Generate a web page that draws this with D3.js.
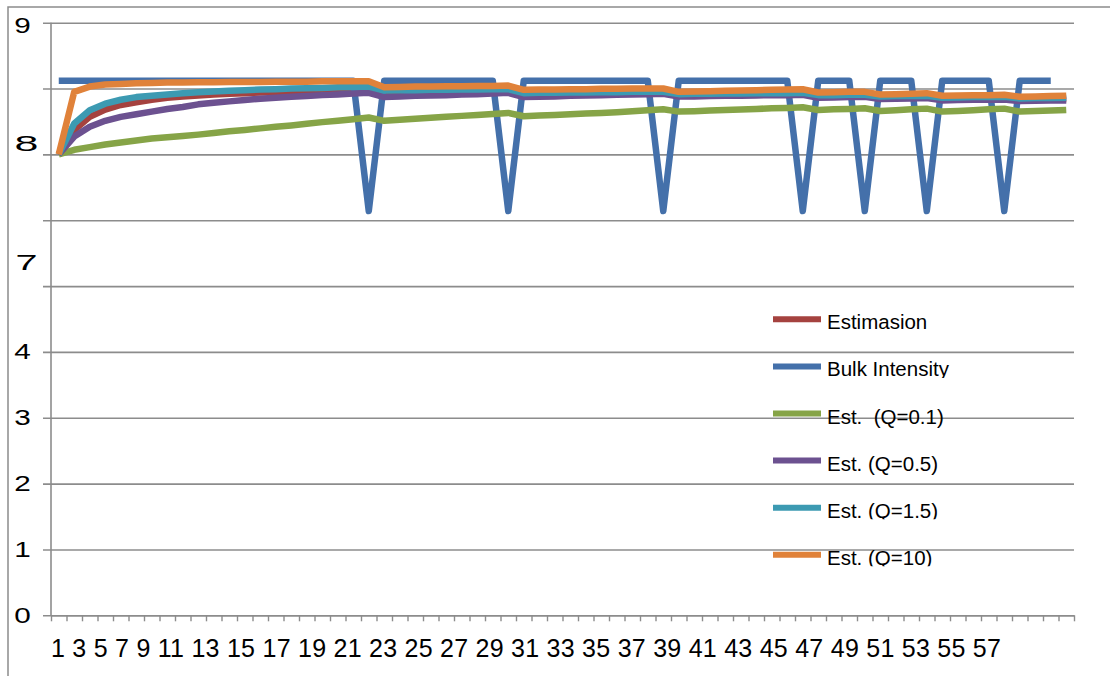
<!DOCTYPE html>
<html>
<head>
<meta charset="utf-8">
<script src="https://cdn.jsdelivr.net/npm/d3@7"></script>
<style>
  body { margin: 0; background: #fff; }
  svg { display: block; }
  text { font-family: "Liberation Sans", Arial, sans-serif; fill: #000; }
</style>
</head>
<body>
<svg id="chart" width="1110" height="676"></svg>
<script>
// ---- data ----------------------------------------------------------------
const categories = d3.range(1, 67);

const xTickLabels = ["1","3","5","7","9","11","13","15","17","19","21","23","25","27","29",
                     "31","33","35","37","39","41","43","45","47","49","51","53","55","57"];

const yGridValues = [0, 1, 2, 3, 4, 5, 6, 7, 8, 9];
const yLabelText  = ["0", "1", "2", "3", "4", "7", "8", "9"];
const yLabelAt    = [0, 1, 2, 3, 4, 5.36, 7.17, 8.96];

const seriesNames = ["Estimasion", "Bulk Intensity", "Est.  (Q=0.1)", "Est. (Q=0.5)", "Est. (Q=1.5)", "Est. (Q=10)"];

const estimasion = [7.00,7.37,7.57,7.68,7.75,7.79,7.83,7.86,7.88,7.895,
  7.91,7.92,7.93,7.94,7.945,7.955,7.96,7.97,7.975,7.98,
  7.99,7.905,7.91,7.92,7.925,7.93,7.935,7.94,7.95,7.955,
  7.90,7.905,7.91,7.915,7.92,7.925,7.93,7.93,7.935,7.94,
  7.895,7.90,7.90,7.905,7.905,7.91,7.915,7.915,7.92,7.88,
  7.885,7.885,7.89,7.86,7.865,7.865,7.87,7.84,7.845,7.85,
  7.85,7.855,7.83,7.835,7.835,7.84];

const bulkIntensity = [8.12,8.12,8.12,8.12,8.12,8.12,8.12,8.12,8.12,8.12,
  8.12,8.12,8.12,8.12,8.12,8.12,8.12,8.12,8.12,8.12,
  6.14,8.12,8.12,8.12,8.12,8.12,8.12,8.12,8.12,6.14,
  8.12,8.12,8.12,8.12,8.12,8.12,8.12,8.12,8.12,6.14,
  8.12,8.12,8.12,8.12,8.12,8.12,8.12,8.12,6.14,8.12,
  8.12,8.12,6.14,8.12,8.12,8.12,6.14,8.12,8.12,8.12,
  8.12,6.14,8.12,8.12,8.12];

const estQ01 = [7.00,7.07,7.11,7.15,7.18,7.21,7.24,7.26,7.28,7.30,
  7.325,7.35,7.37,7.395,7.42,7.44,7.465,7.49,7.51,7.535,
  7.56,7.51,7.525,7.54,7.555,7.57,7.585,7.60,7.615,7.63,
  7.58,7.59,7.60,7.61,7.62,7.63,7.64,7.655,7.67,7.685,
  7.65,7.655,7.665,7.675,7.68,7.69,7.70,7.705,7.715,7.675,
  7.685,7.69,7.70,7.66,7.67,7.685,7.695,7.65,7.66,7.67,
  7.685,7.695,7.65,7.66,7.665,7.675];

const estQ05 = [7.00,7.27,7.42,7.51,7.57,7.61,7.65,7.69,7.72,7.76,
  7.785,7.805,7.825,7.845,7.86,7.875,7.885,7.90,7.91,7.925,
  7.935,7.87,7.88,7.89,7.895,7.90,7.91,7.915,7.925,7.935,
  7.87,7.875,7.88,7.89,7.895,7.90,7.905,7.91,7.915,7.92,
  7.88,7.88,7.885,7.89,7.89,7.895,7.90,7.90,7.905,7.86,
  7.865,7.87,7.875,7.84,7.845,7.85,7.855,7.82,7.825,7.83,
  7.83,7.835,7.81,7.815,7.82,7.82];

const estQ15 = [7.00,7.47,7.67,7.77,7.83,7.87,7.89,7.91,7.93,7.945,
  7.955,7.965,7.975,7.985,7.99,8.00,8.005,8.01,8.02,8.025,
  8.03,7.97,7.975,7.975,7.98,7.98,7.985,7.985,7.99,7.99,
  7.93,7.935,7.935,7.94,7.94,7.945,7.945,7.95,7.95,7.95,
  7.915,7.92,7.92,7.925,7.925,7.93,7.93,7.93,7.935,7.90,
  7.90,7.905,7.905,7.88,7.885,7.885,7.89,7.86,7.865,7.87,
  7.87,7.875,7.85,7.855,7.855,7.86];

const estQ10 = [7.00,7.95,8.03,8.06,8.07,8.08,8.085,8.09,8.09,8.095,
  8.095,8.10,8.10,8.10,8.105,8.105,8.105,8.11,8.11,8.11,
  8.11,8.02,8.025,8.03,8.03,8.035,8.035,8.04,8.04,8.045,
  7.98,7.985,7.985,7.99,7.99,7.995,7.995,8.00,8.00,8.00,
  7.95,7.955,7.96,7.965,7.97,7.975,7.98,7.985,7.99,7.94,
  7.945,7.95,7.95,7.91,7.915,7.92,7.93,7.89,7.895,7.90,
  7.90,7.905,7.875,7.88,7.885,7.89];

// ---- styling -------------------------------------------------------------
const seriesColors = ["#a5423f", "#4470aa", "#86a447", "#6c5190", "#3c9ab2", "#e0823a"];
const seriesValues = [estimasion, bulkIntensity, estQ01, estQ05, estQ15, estQ10];
const legendClipped = [false, true, false, false, true, true];
// horizontal stretch and offset of the hand-set y labels
const yLabelStretch = [1.35, 1.35, 1.35, 1.35, 1.35, 1.8, 1.95, 1.35];
const yLabelShift   = [0, 0, 0, 0, 0, 4, 4, 0];

const W = 1110, H = 676;
const plot = { left: 51, right: 1074, top: 22.7, bottom: 615.3 };
const gridColor = "#8c8c8c";

const svg = d3.select("#chart");

// outer chart border (left and top edges visible)
svg.append("path")
  .attr("d", `M8,${H} L8,7 L${W},7`)
  .attr("fill", "none")
  .attr("stroke", gridColor)
  .attr("stroke-width", 1.5);

// ---- scales --------------------------------------------------------------
const x = d3.scaleBand().domain(categories).range([plot.left, plot.right]).padding(0);
const xEdge = d3.scaleLinear().domain([0, categories.length]).range([plot.left, plot.right]);
const y = d3.scaleLinear().domain([0, 9]).range([plot.bottom, plot.top]);

// ---- gridlines (with outside tick stubs) ---------------------------------
const grid = svg.append("g")
  .attr("transform", `translate(${plot.left - 8},0)`)
  .call(d3.axisLeft(y).tickValues(yGridValues).tickSize(-(plot.right - plot.left + 8)).tickFormat(""));
grid.select(".domain").remove();
grid.selectAll(".tick line").attr("stroke", gridColor).attr("stroke-width", 1.6);

// y axis line
svg.append("line")
  .attr("x1", plot.left).attr("x2", plot.left)
  .attr("y1", y(9)).attr("y2", y(0))
  .attr("stroke", gridColor).attr("stroke-width", 1.6);

// y labels
const yLab = svg.append("g")
  .attr("transform", `translate(22.5,0)`)
  .call(d3.axisLeft(y).tickValues(yLabelAt).tickSize(0).tickPadding(0)
    .tickFormat((d, i) => yLabelText[i]));
yLab.select(".domain").remove();
yLab.selectAll("text")
  .attr("font-size", 22)
  .attr("font-family", "Liberation Sans, Arial, sans-serif")
  .attr("fill", "#000")
  .attr("text-anchor", "middle")
  .attr("x", 0)
  .attr("transform", (d, i) => `translate(${yLabelShift[i]},0) scale(${yLabelStretch[i]},1)`);

// x axis: ticks at category boundaries
const xAxis = svg.append("g")
  .attr("transform", `translate(0,${plot.bottom})`)
  .call(d3.axisBottom(xEdge).tickValues(d3.range(0, categories.length + 1)).tickSize(6).tickSizeOuter(0).tickFormat(""));
xAxis.select(".domain").attr("stroke", gridColor).attr("stroke-width", 1.6);
xAxis.selectAll(".tick line").attr("stroke", gridColor).attr("stroke-width", 1.4);

// x labels, flowed as one line of text
const xText = svg.append("text")
  .attr("x", plot.left)
  .attr("y", 657)
  .attr("font-size", 25)
  .attr("letter-spacing", 0.25)
  .style("white-space", "pre");
xText.selectAll("tspan")
  .data(xTickLabels)
  .join("tspan")
  .text((d, i) => (i ? " " : "") + d);

// ---- series lines --------------------------------------------------------
const line = d3.line()
  .defined(d => d != null)
  .x((d, i) => x(categories[i]) + x.bandwidth() / 2)
  .y(d => y(d));

svg.append("g")
  .selectAll("path")
  .data(seriesValues)
  .join("path")
  .attr("d", d => line(d))
  .attr("fill", "none")
  .attr("stroke", (d, i) => seriesColors[i])
  .attr("stroke-width", 6.5)
  .attr("stroke-linejoin", "round")
  .attr("stroke-linecap", "butt");

// ---- legend --------------------------------------------------------------
const legendTop = 319.3, legendStep = 47.1;
const defs = svg.append("defs");
const legend = svg.append("g");
seriesNames.forEach((name, i) => {
  const cy = legendTop + i * legendStep;
  legend.append("line")
    .attr("x1", 773).attr("x2", 821)
    .attr("y1", cy).attr("y2", cy)
    .attr("stroke", seriesColors[i])
    .attr("stroke-width", 6);
  const t = legend.append("text")
    .attr("x", 827)
    .attr("y", cy + 10)
    .attr("font-size", 20.5)
    .style("white-space", "pre")
    .text(name);
  if (legendClipped[i]) {
    const id = "legclip" + i;
    defs.append("clipPath").attr("id", id)
      .append("rect")
      .attr("x", 820).attr("y", cy - 25)
      .attr("width", 200).attr("height", 36.5);
    t.attr("clip-path", `url(#${id})`);
  }
});
</script>
</body>
</html>
